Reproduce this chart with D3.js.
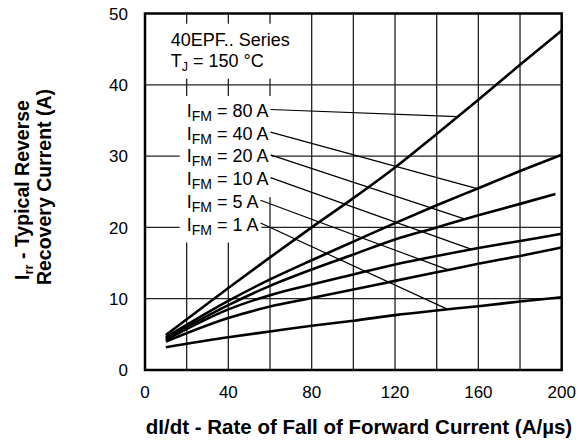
<!DOCTYPE html>
<html lang="en">
<head>
<meta charset="UTF-8">
<title>Irr vs dI/dt</title>
<script src="https://d3js.org/d3.v7.min.js"></script>
<style>
    body { margin: 0; background: #fff; }
    svg { display: block; font-family: "Liberation Sans", Arial, sans-serif; }
</style>
</head>
<body>
<svg id="chart" width="587" height="446"></svg>
<script>
// dI/dt sample points (A/us)
const dIdt = [10, 40, 60, 80, 100, 120, 140, 160, 180, 200];
const dIdt20 = [10, 40, 60, 80, 100, 120, 140, 160, 180, 197];

// Irr (A) for each IFM curve
const irr80 = [4.9, 11.5, 15.8, 20.0, 24.1, 28.4, 33.1, 37.9, 42.8, 47.6];
const irr40 = [4.6, 9.7, 12.7, 15.4, 18.0, 20.6, 23.1, 25.5, 27.9, 30.2];
const irr20 = [4.4, 9.1, 11.8, 14.1, 16.2, 18.3, 20.0, 21.7, 23.3, 24.7];
const irr10 = [4.2, 8.5, 10.5, 12.0, 13.4, 14.8, 16.0, 17.1, 18.1, 19.1];
const irr5  = [4.0, 7.3, 8.9, 10.1, 11.3, 12.5, 13.7, 14.9, 16.0, 17.2];
const irr1  = [3.2, 4.6, 5.4, 6.2, 6.9, 7.7, 8.35, 8.95, 9.6, 10.2];

const ifmLabels = ["80", "40", "20", "10", "5", "1"];
// where each label's leader meets its curve (dI/dt)
const leaderX = [150.2, 159.4, 153.6, 156.8, 145.6, 145.3];

const xTicks = [0, 40, 80, 120, 160, 200];
const yTicks = [0, 10, 20, 30, 40, 50];
const xGrid = [20, 40, 60, 80, 100, 120, 140, 160, 180];
const yGrid = [10, 20, 30, 40];

const series = [
    { x: dIdt, y: irr80 },
    { x: dIdt, y: irr40 },
    { x: dIdt20, y: irr20 },
    { x: dIdt, y: irr10 },
    { x: dIdt, y: irr5 },
    { x: dIdt, y: irr1 }
];

const svg = d3.select("#chart");
const plotL = 145, plotR = 561.7, plotT = 13.5, plotB = 370;

const x = d3.scaleLinear().domain([0, 200]).range([plotL, plotR]);
const y = d3.scaleLinear().domain([0, 50]).range([plotB, plotT]);

// grid
svg.append("g").selectAll("line").data(xGrid).join("line")
    .attr("x1", d => x(d)).attr("x2", d => x(d))
    .attr("y1", plotT).attr("y2", plotB)
    .attr("stroke", "#222").attr("stroke-width", 1.3);
svg.append("g").selectAll("line").data(yGrid).join("line")
    .attr("x1", plotL).attr("x2", plotR)
    .attr("y1", d => y(d)).attr("y2", d => y(d))
    .attr("stroke", "#222").attr("stroke-width", 1.3);

const masks = svg.append("g");

// frame
svg.append("rect")
    .attr("x", plotL).attr("y", plotT)
    .attr("width", plotR - plotL).attr("height", plotB - plotT)
    .attr("fill", "none").attr("stroke", "#000").attr("stroke-width", 2.5);

// curves
const line = d3.line()
    .x(d => x(d[0])).y(d => y(d[1]))
    .curve(d3.curveMonotoneX);

svg.append("g").selectAll("path").data(series).join("path")
    .attr("d", s => line(d3.zip(s.x, s.y)))
    .attr("fill", "none").attr("stroke", "#000").attr("stroke-width", 2.6);

// axis tick labels
svg.append("g").selectAll("text").data(yTicks).join("text")
    .attr("x", 128).attr("y", d => y(d)).attr("dy", "0.36em")
    .attr("text-anchor", "end").attr("font-size", 17)
    .text(d => d);
svg.append("g").selectAll("text").data(xTicks).join("text")
    .attr("x", d => x(d)).attr("y", 398)
    .attr("text-anchor", "middle").attr("font-size", 17)
    .text(d => d);

// axis titles
svg.append("text")
    .attr("x", 359).attr("y", 434)
    .attr("text-anchor", "middle").attr("font-size", 20.5).attr("font-weight", "bold")
    .text("dI/dt - Rate of Fall of Forward Current (A/µs)");

const yt = svg.append("g").attr("transform", "translate(28.5,190) rotate(-90)")
    .attr("font-size", 19.5).attr("font-weight", "bold").attr("text-anchor", "middle");
const yt1 = yt.append("text").attr("x", 0).attr("y", 0);
yt1.append("tspan").text("I");
yt1.append("tspan").attr("font-size", 13).attr("dy", 4).text("rr");
yt1.append("tspan").attr("dy", -4).text(" - Typical Reverse");
yt.append("text").attr("x", 3).attr("y", 22).text("Recovery Current (A)");

// title block
const title = svg.append("g").attr("font-size", 18);
title.append("text").attr("x", 170.7).attr("y", 45.7).text("40EPF.. Series");
const t2 = title.append("text").attr("x", 170.7).attr("y", 66.7);
t2.append("tspan").text("T");
t2.append("tspan").attr("font-size", 12.5).attr("dy", 4).text("J");
t2.append("tspan").attr("dy", -4).text(" = 150 °C");

const tb = title.node().getBBox();
masks.append("rect")
    .attr("x", tb.x - 8).attr("y", tb.y - 6)
    .attr("width", tb.width + 16).attr("height", tb.height + 11)
    .attr("fill", "#fff");

// IFM labels with leaders
const labels = svg.append("g").attr("font-size", 18);
ifmLabels.forEach((v, i) => {
    const base = 117 + i * 22.7;
    const t = labels.append("text").attr("x", 186.7).attr("y", base);
    t.append("tspan").text("I");
    t.append("tspan").attr("font-size", 14).attr("dy", 4).text("FM");
    t.append("tspan").attr("dy", -4).text(" = " + v + " A");
    const b = t.node().getBBox();
    masks.append("rect")
        .attr("x", b.x - 7).attr("y", b.y - 5)
        .attr("width", b.width + 10).attr("height", b.height + 10)
        .attr("fill", "#fff");

    const s = series[i];
    const onCurve = d3.scaleLinear().domain(s.x).range(s.y);
    svg.append("line")
        .attr("x1", b.x + b.width + 2).attr("y1", base - 7.5)
        .attr("x2", x(leaderX[i])).attr("y2", y(onCurve(leaderX[i])))
        .attr("stroke", "#000").attr("stroke-width", 1.2);
});
</script>
</body>
</html>
